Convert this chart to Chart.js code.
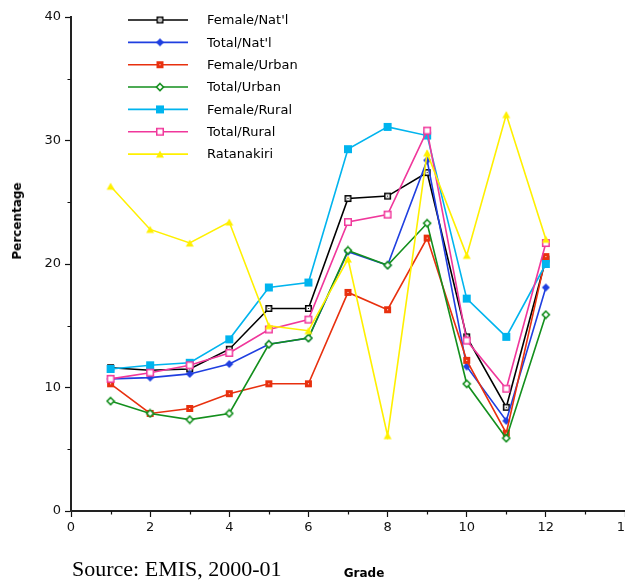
<!DOCTYPE html>
<html>
<head>
<meta charset="utf-8">
<script src="https://cdn.jsdelivr.net/npm/chart.js@4/dist/chart.umd.min.js"></script>
<style>
  html, body { margin: 0; padding: 0; background: #fff; overflow: hidden; }
  #wrap { position: relative; width: 625px; height: 580px; overflow: hidden; }
  #chart { position: absolute; left: 0; top: 0; }
  .ytitle {
    position: absolute; left: 17px; top: 221px;
    transform: translate(-50%, -50%) rotate(-90deg);
    font: bold 12px "DejaVu Sans", sans-serif; color: #000; white-space: nowrap;
  }
  .xtitle {
    position: absolute; left: 364px; top: 573px;
    transform: translate(-50%, -50%);
    font: bold 12px "DejaVu Sans", sans-serif; color: #000; white-space: nowrap;
  }
  .source {
    position: absolute; left: 72px; top: 556px;
    font: 22px "Liberation Serif", "Times New Roman", serif; color: #000; white-space: nowrap;
  }
</style>
</head>
<body>
<div id="wrap">
  <canvas id="chart" width="660" height="580"></canvas>
  <div class="ytitle">Percentage</div>
  <div class="xtitle">Grade</div>
  <div class="source">Source: EMIS, 2000-01</div>
</div>
<script>
// Grades 1..12
const grades = [1, 2, 3, 4, 5, 6, 7, 8, 9, 10, 11, 12];

// Repetition rate (%) by grade
const femaleNatl  = [11.6, 11.4, 11.5, 13.1, 16.4, 16.4, 25.3, 25.5, 27.4, 14.1, 8.4, 20.4];
const totalNatl   = [10.7, 10.8, 11.1, 11.9, 13.5, 14.0, 21.0, 19.9, 28.4, 11.7, 7.3, 18.1];
const femaleUrban = [10.3, 7.9, 8.3, 9.5, 10.3, 10.3, 17.7, 16.3, 22.1, 12.2, 6.3, 20.6];
const totalUrban  = [8.9, 7.9, 7.4, 7.9, 13.5, 14.0, 21.1, 19.9, 23.3, 10.3, 5.9, 15.9];
const femaleRural = [11.5, 11.8, 12.0, 13.9, 18.1, 18.5, 29.3, 31.1, 30.4, 17.2, 14.1, 20.0];
const totalRural  = [10.7, 11.2, 11.8, 12.8, 14.7, 15.5, 23.4, 24.0, 30.8, 13.8, 9.9, 21.7];
const ratanakiri  = [26.3, 22.8, 21.7, 23.4, 15.0, 14.6, 20.4, 6.1, 29.0, 20.7, 32.1, 22.0];

const seriesNames = ["Female/Nat'l", "Total/Nat'l", "Female/Urban", "Total/Urban", "Female/Rural", "Total/Rural", "Ratanakiri"];

// Axis ticks
const xMajorTicks = [0, 2, 4, 6, 8, 10, 12, 14];
const xMinorTicks = [1, 3, 5, 7, 9, 11, 13];
const yMajorTicks = [0, 10, 20, 30, 40];
const yMinorTicks = [5, 15, 25, 35];

const COLORS = {
  black: '#000000',
  blue: '#1f3fe0',
  red: '#e8300e',
  green: '#138f1d',
  cyan: '#00b4ee',
  pink: '#f0379b',
  yellow: '#fff000'
};

// Marker glyphs drawn once onto small canvases
function glyph(size, draw) {
  const c = document.createElement('canvas');
  c.width = size; c.height = size;
  draw(c.getContext('2d'));
  return c;
}
const markers = [
  glyph(9, g => { // open square with centre dot
    g.fillStyle = '#fff'; g.fillRect(1.5, 1.5, 6, 6);
    g.strokeStyle = COLORS.black; g.lineWidth = 1.5; g.strokeRect(1.75, 1.75, 5.5, 5.5);
    g.fillStyle = COLORS.black; g.fillRect(4, 4, 1, 1);
  }),
  glyph(10, g => { // filled diamond
    g.fillStyle = COLORS.blue; g.beginPath();
    g.moveTo(5, 1); g.lineTo(9, 5); g.lineTo(5, 9); g.lineTo(1, 5); g.closePath(); g.fill();
  }),
  glyph(9, g => { // filled square with white dot
    g.fillStyle = COLORS.red; g.fillRect(1, 1, 7, 7);
    g.fillStyle = '#fff'; g.fillRect(4, 4, 1, 1);
  }),
  glyph(10, g => { // open diamond
    g.fillStyle = '#fff'; g.strokeStyle = COLORS.green; g.lineWidth = 1.6; g.beginPath();
    g.moveTo(5, 1.5); g.lineTo(8.5, 5); g.lineTo(5, 8.5); g.lineTo(1.5, 5); g.closePath(); g.fill(); g.stroke();
  }),
  glyph(10, g => { // filled square
    g.fillStyle = COLORS.cyan; g.fillRect(1, 1, 8, 8);
  }),
  glyph(10, g => { // open square
    g.fillStyle = '#fff'; g.fillRect(1.5, 1.5, 7, 7);
    g.strokeStyle = COLORS.pink; g.lineWidth = 1.5; g.strokeRect(1.75, 1.75, 6.5, 6.5);
  }),
  glyph(10, g => { // filled triangle
    g.fillStyle = COLORS.yellow; g.beginPath();
    g.moveTo(5, 1.5); g.lineTo(9, 8.5); g.lineTo(1, 8.5); g.closePath(); g.fill();
  })
];

const seriesValues = [femaleNatl, totalNatl, femaleUrban, totalUrban, femaleRural, totalRural, ratanakiri];
const seriesColors = [COLORS.black, COLORS.blue, COLORS.red, COLORS.green, COLORS.cyan, COLORS.pink, COLORS.yellow];

const datasets = seriesValues.map((vals, i) => ({
  label: seriesNames[i],
  data: grades.map((g, k) => ({ x: g, y: vals[k] })),
  borderColor: seriesColors[i],
  backgroundColor: seriesColors[i],
  borderWidth: 1.6,
  pointStyle: markers[i],
  pointRadius: 4,
  pointHoverRadius: 4,
  tension: 0,
  order: seriesValues.length - 1 - i
}));

// Short minor tick marks on both axes
const minorTicks = {
  id: 'minorTicks',
  afterDraw(chart) {
    const { ctx, scales: { x, y } } = chart;
    ctx.save();
    ctx.strokeStyle = '#111';
    ctx.lineWidth = 1.2;
    ctx.beginPath();
    xMinorTicks.forEach(v => {
      const px = Math.round(x.getPixelForValue(v)) + 0.5;
      ctx.moveTo(px, y.bottom); ctx.lineTo(px, y.bottom + 3.5);
    });
    yMinorTicks.forEach(v => {
      const py = Math.round(y.getPixelForValue(v)) + 0.5;
      ctx.moveTo(x.left - 3.5, py); ctx.lineTo(x.left, py);
    });
    ctx.stroke();
    ctx.restore();
  }
};

// Line-and-marker key inside the plot
const keyBox = {
  id: 'keyBox',
  afterDraw(chart) {
    const ctx = chart.ctx;
    ctx.save();
    ctx.font = '13px "DejaVu Sans", sans-serif';
    ctx.textBaseline = 'middle';
    ctx.textAlign = 'left';
    chart.data.datasets.forEach((ds, i) => {
      const yy = 20 + i * 22.35;
      ctx.strokeStyle = ds.borderColor;
      ctx.lineWidth = 1.6;
      ctx.beginPath();
      ctx.moveTo(128, yy); ctx.lineTo(188, yy);
      ctx.stroke();
      const m = ds.pointStyle;
      ctx.drawImage(m, 160 - m.width / 2, yy - m.height / 2);
      ctx.fillStyle = '#000';
      ctx.fillText(ds.label, 207, yy + 1);
    });
    ctx.restore();
  }
};

new Chart(document.getElementById('chart'), {
  type: 'line',
  data: { datasets },
  options: {
    responsive: false,
    animation: false,
    events: [],
    layout: { padding: { left: 0, right: 35, top: 17, bottom: 0 } },
    plugins: { legend: { display: false }, tooltip: { enabled: false } },
    scales: {
      x: {
        type: 'linear',
        min: 0, max: 14,
        afterBuildTicks: s => { s.ticks = xMajorTicks.map(v => ({ value: v })); },
        afterFit: s => { s.height = 69; },
        grid: { drawOnChartArea: false, drawTicks: true, tickLength: 6, tickColor: '#111', tickWidth: 1.2 },
        border: { display: true, color: '#222', width: 2 },
        ticks: { color: '#111', font: { family: '"DejaVu Sans", sans-serif', size: 13 }, padding: 3, maxRotation: 0 }
      },
      y: {
        min: 0, max: 40,
        afterBuildTicks: s => { s.ticks = yMajorTicks.map(v => ({ value: v })); },
        afterFit: s => { s.width = 71; },
        grid: { drawOnChartArea: false, drawTicks: true, tickLength: 6, tickColor: '#111', tickWidth: 1.2 },
        border: { display: true, color: '#222', width: 2 },
        ticks: { color: '#111', font: { family: '"DejaVu Sans", sans-serif', size: 13 }, padding: 4 }
      }
    }
  },
  plugins: [minorTicks, keyBox]
});
</script>
</body>
</html>
